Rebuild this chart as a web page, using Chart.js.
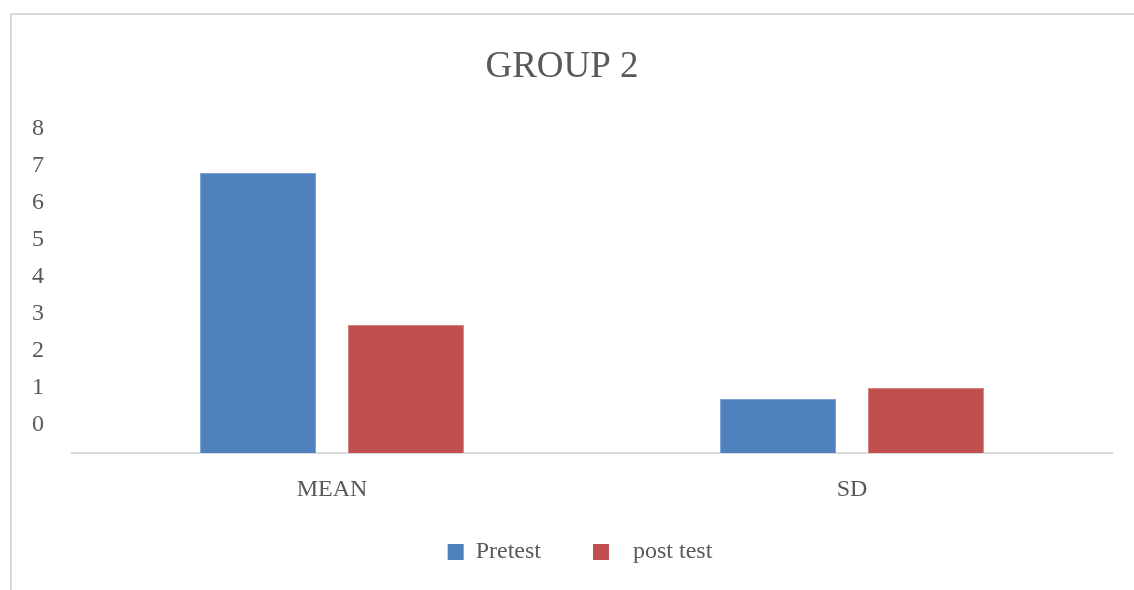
<!DOCTYPE html>
<html>
<head>
<meta charset="utf-8">
<title>GROUP 2</title>
<script src="https://cdn.jsdelivr.net/npm/chart.js@4.4.1/dist/chart.umd.min.js"></script>
<style>
  html, body { margin: 0; padding: 0; background: #ffffff; overflow: hidden; }
  /* light frame around the chart object */
  #frame {
    position: absolute; left: 10px; top: 13px; width: 1200px; height: 700px;
    border-left: 2px solid #d9d9d9; border-top: 2px solid #d9d9d9;
  }
  #wrap { position: absolute; left: 0; top: 0; width: 1136px; height: 590px; }
</style>
</head>
<body>
<div id="frame"></div>
<div id="wrap"><canvas id="chart" width="1136" height="590"></canvas></div>
<script>
// Data
const categories = ['MEAN', 'SD'];
const seriesNames = ['Pretest', 'post test'];
const pretestValues = [7.57, 1.46];
const postTestValues = [3.46, 1.76];
const yTickValues = [0, 1, 2, 3, 4, 5, 6, 7, 8];

const TEXT = '#595959';
const SERIF = "'Liberation Serif', 'Times New Roman', serif";

// legend texts carry the spacing used between the entries
const legendTexts = [seriesNames[0] + '\u00a0'.repeat(7), '\u00a0\u00a0' + seriesNames[1] + '\u00a0'.repeat(4)];

new Chart(document.getElementById('chart'), {
  type: 'bar',
  data: {
    labels: categories,
    datasets: [
      {
        label: seriesNames[0],
        data: pretestValues,
        backgroundColor: '#4f81bd',
        borderColor: '#7fa3d0',
        borderWidth: 1
      },
      {
        label: seriesNames[1],
        data: postTestValues,
        backgroundColor: '#c0504d',
        borderColor: '#d68482',
        borderWidth: 1
      }
    ]
  },
  options: {
    responsive: false,
    animation: false,
    devicePixelRatio: 1,
    categoryPercentage: 0.569,
    barPercentage: 0.784,
    layout: { padding: { left: 12, right: 24, top: 0, bottom: 16 } },
    plugins: {
      tooltip: { enabled: false },
      title: {
        display: true,
        text: 'GROUP 2',
        color: TEXT,
        font: { family: SERIF, size: 37, weight: 'normal', lineHeight: 1.2 },
        padding: { top: 44.8, bottom: 67.8 }
      },
      legend: {
        position: 'bottom',
        fullSize: false,
        labels: {
          color: TEXT,
          font: { family: SERIF, size: 24, lineHeight: 1.2 },
          boxWidth: 16,
          boxHeight: 16,
          padding: 10,
          generateLabels: (chart) => {
            const items = Chart.defaults.plugins.legend.labels.generateLabels(chart);
            items.forEach((it, i) => { it.text = legendTexts[i]; it.lineWidth = 0; });
            return items;
          }
        }
      }
    },
    scales: {
      x: {
        grid: { display: false, drawTicks: false },
        border: { display: true, color: '#d9d9d9', width: 2 },
        ticks: {
          color: TEXT,
          font: { family: SERIF, size: 24, lineHeight: 1.2 },
          padding: 22
        },
        afterFit: (s) => { s.height = 77; }
      },
      y: {
        min: 0,
        max: 8,
        grid: { display: false, drawTicks: false },
        border: { display: false },
        afterBuildTicks: (s) => { s.ticks = yTickValues.map(v => ({ value: v })); },
        ticks: {
          color: TEXT,
          font: { family: SERIF, size: 24, lineHeight: 1.2 },
          padding: 28,
          labelOffset: -28
        },
        afterFit: (s) => { s.width = 60; }
      }
    }
  }
});
</script>
</body>
</html>
